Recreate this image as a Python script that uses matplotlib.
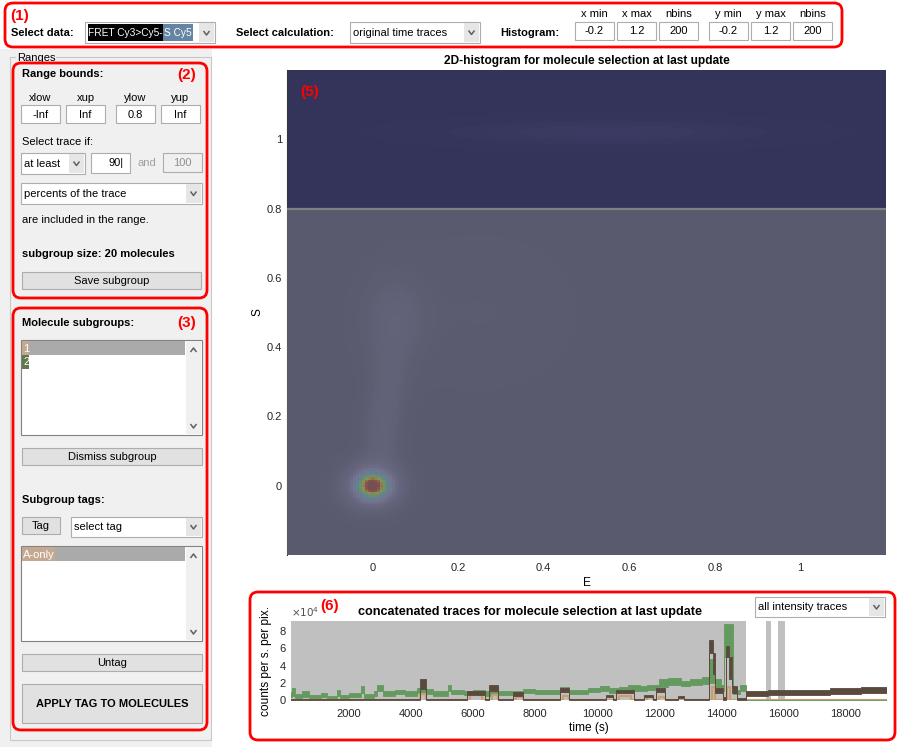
import numpy as np
import matplotlib
matplotlib.use("Agg")
import matplotlib.pyplot as plt
from matplotlib.patches import Rectangle, FancyBboxPatch
from matplotlib.colors import LinearSegmentedColormap

plt.rcParams["font.family"] = ["Liberation Sans", "DejaVu Sans"]

# --- 2D histogram (E, S): blobs ---
blob_E = [0.0, 0.0, 0.02, 0.04, 0.05, 0.25, 0.55]
blob_S = [0.0, 0.0, 0.15, 0.30, 0.48, 0.50, 1.02]
blob_sdE = [0.02, 0.045, 0.03, 0.03, 0.05, 0.15, 0.30]
blob_sdS = [0.02, 0.045, 0.08, 0.08, 0.09, 0.15, 0.03]
blob_amp = [1.0, 0.17, 0.045, 0.035, 0.045, 0.012, 0.025]
hist_lim = [-0.2, 1.2]
hist_nbins = 200
range_S_low = 0.8
hist_ticks = [0, 0.2, 0.4, 0.6, 0.8, 1]
hist_ticklabels = ["0", "0.2", "0.4", "0.6", "0.8", "1"]

# --- concatenated traces: step envelopes (time s, counts) ---
green_t = [0, 150, 250, 500, 700, 1100, 1300, 1600, 1700, 2000, 2400, 2500, 2800,
           2900, 3100, 3500, 3800, 4200, 4500, 4700, 5200, 5300, 5700, 6000, 6400,
           6600, 6800, 7300, 7600, 8000, 8800, 9100, 9700, 10100, 10400, 10700,
           11000, 11400, 11600, 12000, 12300, 12700, 13000, 13400, 13600, 13800,
           14000, 14100, 14400, 14600, 14800, 19400]
green_lo = [3000, 5000, 2000, 4000, 2000, 3000, 1500, 5000, 2000, 3000, 8000, 2000,
            5000, 11000, 5000, 7000, 5000, 8000, 7000, 5000, 11000, 7000, 6000, 7000,
            5000, 8000, 6000, 5000, 8000, 7000, 9000, 7000, 9000, 10000, 8000, 9000,
            11000, 10000, 12000, 15000, 18000, 16000, 17000, 19000, 20000, 14000,
            10000, 50000, 7000, 10000, 0, 0]
green_hi = [9000, 14000, 7000, 10000, 6000, 8000, 5000, 12000, 6000, 8000, 16000, 7000,
            11000, 17000, 10000, 12000, 10000, 14000, 13000, 10000, 18000, 12000, 11000,
            12000, 10000, 14000, 11000, 10000, 13000, 12000, 15000, 12000, 14000, 16000,
            14000, 15000, 17000, 16000, 18000, 24000, 26000, 22000, 24000, 27000, 48000,
            24000, 18000, 88000, 12000, 18000, 1500, 1500]
brown_t = [0, 4300, 4500, 5800, 6400, 6500, 6800, 7300, 7600, 8800, 9100, 10300,
           10500, 10600, 11200, 11500, 11800, 11900, 12200, 12600, 12800, 13600,
           13750, 13800, 14050, 14150, 14250, 14350, 14500, 14800, 15500, 16500,
           17500, 18500, 19400]
brown_lo = [0, 13000, 0, 6000, 0, 11000, 0, 5000, 0, 9000, 0, 3000, 0, 8000, 0, 3000,
            0, 9000, 0, 2000, 0, 55000, 30000, 8000, 0, 50000, 25000, 8000, 0, 5000,
            5500, 6000, 7500, 8500, 8500]
brown_hi = [1500, 25000, 1500, 10000, 1500, 18000, 1500, 9000, 1500, 14000, 1500, 6000,
            1500, 12000, 1500, 6000, 1500, 14000, 1500, 5000, 1500, 70000, 55000, 14000,
            3000, 63000, 50000, 16000, 2000, 11000, 11500, 12000, 14000, 15000, 15000]
tan_t = [0, 4300, 4500, 5900, 6300, 6600, 6800, 7400, 7600, 8900, 9100, 10700,
         11100, 11600, 11800, 12000, 12200, 13700, 13800, 14200, 14300, 19400]
tan_y = [500, 7000, 500, 6000, 500, 6000, 500, 4000, 500, 5000, 500, 5000, 500,
         4000, 500, 4000, 500, 15000, 500, 15000, 500, 500]
gray_start = [0, 15450, 15850]
gray_end = [14800, 15600, 16050]
trace_xticks = [2000, 4000, 6000, 8000, 10000, 12000, 14000, 16000, 18000]
trace_yticks = [0, 20000, 40000, 60000, 80000]

RED = "#ff0000"
EDGE = "#adadad"
BTN = "#e1e1e1"

fig = plt.figure(figsize=(9, 7.47), dpi=100)
fig.patch.set_facecolor("white")
bg = fig.add_axes([0, 0, 1, 1])
bg.set_xlim(0, 900)
bg.set_ylim(747, 0)
bg.axis("off")


def rect(x0, y0, x1, y1, fc="white", ec=EDGE, lw=0.8, z=2):
    bg.add_patch(Rectangle((x0, y0), x1 - x0, y1 - y0, fc=fc, ec=ec, lw=lw, zorder=z))


def txt(x, y, s, size=8, bold=False, ha="left", color="black", **kw):
    bg.text(x, y, s, fontsize=size, fontweight="bold" if bold else "normal",
            ha=ha, va="center", color=color, zorder=5, **kw)


def red_panel(x0, y0, x1, y1):
    bg.add_patch(FancyBboxPatch((x0, y0), x1 - x0, y1 - y0,
                                boxstyle="round,pad=0,rounding_size=8",
                                fc="none", ec=RED, lw=2, zorder=6))


def chevron(cx, cy, up=False, color="#606060"):
    d = -2 if up else 2
    bg.plot([cx - 3, cx, cx + 3], [cy - d, cy + d, cy - d], color=color, lw=1.1,
            zorder=6, solid_capstyle="butt")


def dropdown(x0, y0, x1, y1, s, size=8):
    rect(x0, y0, x1, y1)
    rect(x1 - 16, y0 + 1, x1 - 1, y1 - 1, fc="#e6e6e6", ec="none", z=3)
    chevron(x1 - 8.5, (y0 + y1) / 2)
    if s:
        txt(x0 + 3, (y0 + y1) / 2 + 0.5, s, size=size)


def button(x0, y0, x1, y1, s, bold=False, size=8):
    rect(x0, y0, x1, y1, fc=BTN, ec=EDGE)
    txt((x0 + x1) / 2, (y0 + y1) / 2 + 0.5, s, size=size, bold=bold, ha="center")


def edit(x0, y0, x1, y1, s, ha="center", fc="white", color="black"):
    rect(x0, y0, x1, y1, fc=fc)
    xx = (x0 + x1) / 2 if ha == "center" else x1 - 6
    txt(xx, (y0 + y1) / 2 + 0.5, s, ha=ha, color=color)


def listbox(x0, y0, x1, y1):
    rect(x0, y0, x1, y1, ec="#828282")
    rect(x1 - 16, y0 + 1, x1 - 1, y1 - 1, fc="#f0f0f0", ec="none", z=3)
    chevron(x1 - 8.5, y0 + 10, up=True)
    chevron(x1 - 8.5, y1 - 9)


# ---------- panel (1) ----------
red_panel(5, 3, 842, 47)
txt(10, 16, "(1)", size=11, bold=True, color=RED)
txt(11, 33, "Select data:", bold=True)
rect(85, 22, 215, 43)
rect(88, 24, 163, 41, fc="black", ec="none", z=3)
rect(163, 24, 193, 41, fc="#6585a5", ec="none", z=3)
txt(88, 33, "FRET Cy3>Cy5-", size=7.3, color="white")
txt(164, 33, "S Cy5", size=7.3, color="white")
rect(199, 23, 214, 42, fc="#e6e6e6", ec="none", z=3)
chevron(206.5, 33)
txt(236, 33, "Select calculation:", bold=True)
dropdown(350, 22, 480, 43, "original time traces")
txt(500, 33, "Histogram:", bold=True)
hist_boxes = [(575, "x min", "-0.2"), (617, "x max", "1.2"), (659, "nbins", "200"),
              (709, "y min", "-0.2"), (751, "y max", "1.2"), (793, "nbins", "200")]
for bx, lab, val in hist_boxes:
    txt(bx + 19.5, 14, lab, ha="center")
    edit(bx, 22, bx + 39, 40, val)

# ---------- Ranges frame ----------
rect(0, 49, 212, 747, fc="#f0f0f0", ec="none", z=1)
rect(10, 57, 211, 740, fc="none", ec="#c8c8c8", lw=0.8, z=2)
bg.text(17, 58, "Ranges", fontsize=8, va="center", ha="left", zorder=5,
        bbox=dict(fc="#f0f0f0", ec="none", pad=0.5))

# ---------- panel (2) ----------
red_panel(13, 63, 207, 298)
txt(22, 74, "Range bounds:", bold=True)
txt(177, 75, "(2)", size=11, bold=True, color=RED)
range_boxes = [(21, "xlow", "-Inf"), (66, "xup", "Inf"), (116, "ylow", "0.8"),
               (161, "yup", "Inf")]
for bx, lab, val in range_boxes:
    txt(bx + 19.5, 98, lab, ha="center")
    edit(bx, 105, bx + 39, 123, val)
txt(22, 142, "Select trace if:")
dropdown(21, 153, 85, 174, "at least")
edit(91, 153, 130, 173, "90|", ha="right")
txt(138, 163, "and", color="#a0a0a0")
edit(163, 153, 202, 172, "100", fc="#f0f0f0", color="#909090")
dropdown(21, 183, 202, 204, "percents of the trace")
txt(22, 220, "are included in the range.")
txt(22, 254, "subgroup size: 20 molecules", bold=True)
button(22, 272, 201, 289, "Save subgroup")

# ---------- panel (3) ----------
red_panel(13, 308, 207, 730)
txt(22, 323, "Molecule subgroups:", bold=True)
txt(177, 323, "(3)", size=11, bold=True, color=RED)
listbox(21, 340, 202, 435)
rect(22, 341, 185, 355, fc="#aaaaaa", ec="none", z=3)
rect(22, 341, 29, 355, fc="#c4a890", ec="none", z=4)
txt(23, 348.5, "1", color="white")
rect(22, 355, 29, 369, fc="#5f7850", ec="none", z=4)
txt(23, 362, "2", color="white")
button(22, 448, 202, 465, "Dismiss subgroup")
txt(22, 500, "Subgroup tags:", bold=True)
button(22, 517, 60, 534, "Tag")
dropdown(71, 517, 202, 537, "select tag")
listbox(21, 546, 202, 641)
rect(22, 547, 185, 561, fc="#aaaaaa", ec="none", z=3)
rect(22, 547, 55, 561, fc="#c4a890", ec="none", z=4)
txt(23, 554.5, "A-only", color="white")
button(22, 654, 202, 671, "Untag")
button(22, 684, 202, 723, "APPLY TAG TO MOLECULES", bold=True)

# ---------- (5) 2D histogram ----------
edges = np.linspace(hist_lim[0], hist_lim[1], hist_nbins + 1)
centers = (edges[:-1] + edges[1:]) / 2
EE, SS = np.meshgrid(centers, centers)
dens = np.zeros_like(EE)
for e, s, se, ss, a in zip(blob_E, blob_S, blob_sdE, blob_sdS, blob_amp):
    dens += a * np.exp(-0.5 * (((EE - e) / se) ** 2 + ((SS - s) / ss) ** 2))

cmap = LinearSegmentedColormap.from_list(
    "hist", ["#282878", "#8c8cff", "#40c8ff", "#64ff64", "#ffff00", "#ff2000", "#900000"])

W, H = 900.0, 747.0
ax = fig.add_axes([287 / W, 1 - 555 / H, 599 / W, 485 / H])
ax.imshow(dens, cmap=cmap, vmin=0, vmax=1, origin="lower", aspect="auto",
          interpolation="nearest", extent=[hist_lim[0], hist_lim[1], hist_lim[0], hist_lim[1]])
ax.add_patch(Rectangle((hist_lim[0], hist_lim[0]), 1.4, range_S_low - hist_lim[0],
                       fc=(108 / 255, 108 / 255, 108 / 255), alpha=0.75, ec="none", zorder=3))
ax.add_patch(Rectangle((hist_lim[0], range_S_low), 1.4, hist_lim[1] - range_S_low,
                       fc=(63 / 255, 63 / 255, 63 / 255), alpha=0.525, ec="none", zorder=3))
ax.axhline(range_S_low, color="#808080", lw=1.6, zorder=4)
ax.set_xlim(hist_lim)
ax.set_ylim(hist_lim)
ax.set_xticks(hist_ticks)
ax.set_xticklabels(hist_ticklabels)
ax.set_yticks(hist_ticks)
ax.set_yticklabels(hist_ticklabels)
ax.tick_params(length=0, labelsize=8, labelcolor="#262626")
ax.tick_params(axis="x", pad=5.5)
ax.tick_params(axis="y", pad=3.5)
for sp in ["top", "right", "bottom"]:
    ax.spines[sp].set_visible(False)
ax.spines["left"].set_color("#303030")
ax.spines["left"].set_linewidth(0.8)
ax.set_xlabel("E", fontsize=8.6, labelpad=3)
ax.set_ylabel("S", fontsize=8.6, labelpad=2)
ax.set_title("2D-histogram for molecule selection at last update", fontsize=8.6,
             fontweight="bold", pad=4)
ax.text(0.022, 0.955, "(5)", transform=ax.transAxes, fontsize=11, fontweight="bold",
        color=RED, va="center", zorder=6)

# ---------- (6) concatenated traces ----------
red_panel(250, 592, 895, 740)
txt(320, 606, "(6)", size=11, bold=True, color=RED)
txt(358, 612, "concatenated traces for molecule selection at last update",
    size=9.1, bold=True)
dropdown(755, 597, 885, 617, "all intensity traces")

at = fig.add_axes([291 / W, 1 - 700 / H, 595 / W, 79 / H])
for g0, g1 in zip(gray_start, gray_end):
    at.axvspan(g0, g1, color="#c0c0c0", lw=0, zorder=0)
at.fill_between(green_t, green_lo, green_hi, step="post", color="#64995f",
                lw=0.6, ec="#64995f", zorder=2)
at.step(tan_t, tan_y, where="post", color="#c8a070", lw=1.6, zorder=3)
at.fill_between(brown_t, brown_lo, brown_hi, step="post", color="#5a4a3e",
                lw=0.6, ec="#5a4a3e", zorder=4)
at.set_xlim(130, 19320)
at.set_ylim(0, 92000)
at.set_xticks(trace_xticks)
at.set_yticks(trace_yticks)
at.set_yticklabels([f"{v / 1e4:g}" for v in trace_yticks])
at.tick_params(length=0, labelsize=8, labelcolor="#262626")
at.tick_params(axis="x", pad=6.5)
at.tick_params(axis="y", pad=4)
for sp in at.spines.values():
    sp.set_visible(False)
at.set_xlabel("time (s)", fontsize=8.6, labelpad=2)
at.set_ylabel("counts per s. per pix.", fontsize=8.6, labelpad=5)
at.text(0.0, 1.02, r"$\times10^4$", transform=at.transAxes, fontsize=7.5,
        color="#505050", va="bottom", ha="left")

fig.savefig("out.png", dpi=100)
